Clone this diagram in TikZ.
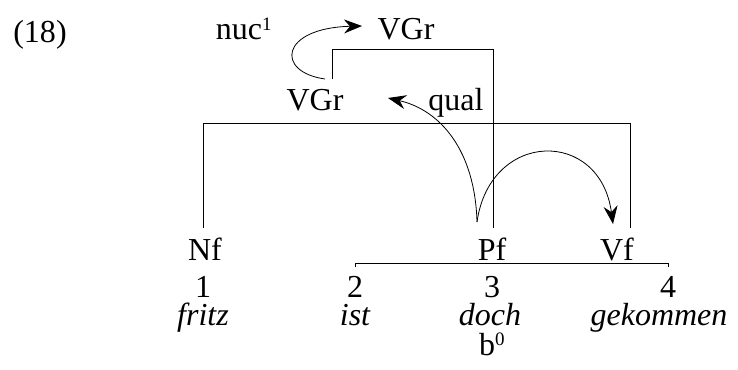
\documentclass[tikz,border=0pt]{standalone}
\usepackage{fontspec}
\setmainfont{Liberation Serif}
\usetikzlibrary{arrows.meta}
\begin{document}
\begin{tikzpicture}[x=1pt,y=-1pt,
  every node/.style={inner sep=0pt,anchor=base,font=\fontsize{32}{38}\selectfont},
  word/.style={font=\fontsize{32}{38}\selectfont\itshape,text height=20pt},
  digit/.style={text depth=0pt},
  bracket/.style={line width=0.9pt},
  rel/.style={line width=0.8pt,-{Stealth[length=18pt,width=14pt,inset=6pt]}}]
\useasboundingbox (0,0) rectangle (738,369);

% example number
\node (ex) at (40,43) {(18)};

% upper layer
\node (nuc) at (244,40) {nuc\textsuperscript{\fontsize{19}{21}\selectfont 1}};
\node (vgrtop) at (406,40) {VGr};
\node (vgr) at (315,110) {VGr};
\node (qual) at (456,110) {qual};

% functional categories
\node (nf) at (205,260) {Nf};
\node (pf) at (492,260) {Pf};
\node (vf) at (617,260) {Vf};

% positions
\node[digit] (n1) at (203,297) {1};
\node[digit] (n2) at (355,297) {2};
\node[digit] (n3) at (492,297) {3};
\node[digit] (n4) at (668,297) {4};

% words
\node[word] (w1) at (203,325) {fritz};
\node[word] (w2) at (355,325) {ist};
\node[word] (w3) at (490,325) {doch};
\node[word] (w4) at (659,325) {gekommen};
\node (b0) at (492,355) {b\textsuperscript{\fontsize{19}{21}\selectfont 0}};

% connection points
\coordinate (tl) at (332,79);
\coordinate (tc) at (332,49);
\coordinate (tr) at (493,49);
\coordinate (pfbot) at (493,228);
\coordinate (ml) at (203,123);
\coordinate (mr) at (630,123);
\coordinate (nfbot) at (203,228);
\coordinate (vfbot) at (630,228);
\coordinate (root) at (477,222);
\coordinate (loopstart) at (325,79);
\coordinate (nuctip) at (362,26);
\coordinate (qualtip) at (388,98);
\coordinate (vftip) at (613,224);

% brackets
\draw[bracket] (tl) -- (tc) -- (tr) -- (pfbot);
\draw[bracket] (nfbot) -- (ml) -- (mr) -- (vfbot);
\draw[bracket] (355,267) -- (355,263) -- (668,263) -- (668,267);

% relations
\draw[rel] (loopstart) .. controls (275,72) and (280,28) .. (nuctip);
\draw[rel] (root) .. controls (475,150) and (440,110) .. (qualtip);
\draw[rel] (root) .. controls (490,130) and (600,128) .. (vftip);
\end{tikzpicture}
\end{document}
